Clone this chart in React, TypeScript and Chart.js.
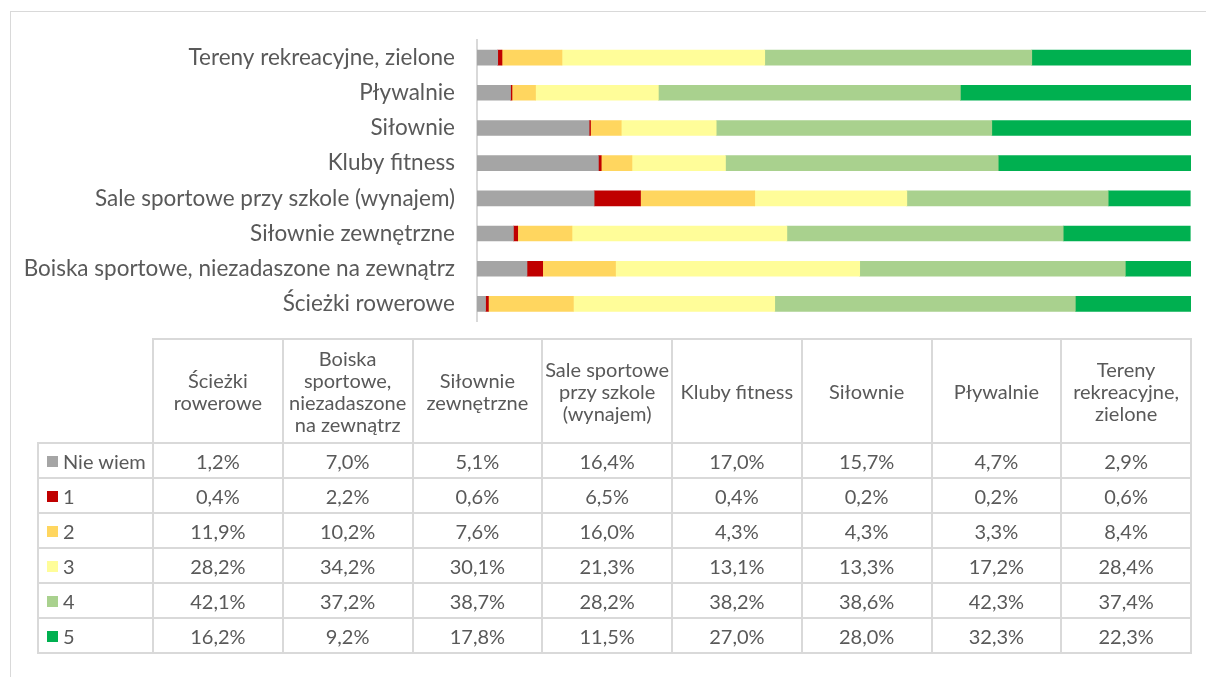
import React, { useEffect, useRef } from "react";
import { Chart, registerables } from "chart.js";

Chart.register(...registerables);

const categories = [
  "Ścieżki rowerowe",
  "Boiska sportowe, niezadaszone na zewnątrz",
  "Siłownie zewnętrzne",
  "Sale sportowe przy szkole (wynajem)",
  "Kluby fitness",
  "Siłownie",
  "Pływalnie",
  "Tereny rekreacyjne, zielone",
];

const headerLines = [
  ["Ścieżki", "rowerowe"],
  ["Boiska", "sportowe,", "niezadaszone", "na zewnątrz"],
  ["Siłownie", "zewnętrzne"],
  ["Sale sportowe", "przy szkole", "(wynajem)"],
  ["Kluby fitness"],
  ["Siłownie"],
  ["Pływalnie"],
  ["Tereny", "rekreacyjne,", "zielone"],
];

const seriesNames = ["Nie wiem", "1", "2", "3", "4", "5"];
const seriesColors = ["#A5A5A5", "#C00000", "#FFD65F", "#FFFD99", "#A9D18E", "#00B050"];

const nieWiem = [1.2, 7.0, 5.1, 16.4, 17.0, 15.7, 4.7, 2.9];
const ocena1 = [0.4, 2.2, 0.6, 6.5, 0.4, 0.2, 0.2, 0.6];
const ocena2 = [11.9, 10.2, 7.6, 16.0, 4.3, 4.3, 3.3, 8.4];
const ocena3 = [28.2, 34.2, 30.1, 21.3, 13.1, 13.3, 17.2, 28.4];
const ocena4 = [42.1, 37.2, 38.7, 28.2, 38.2, 38.6, 42.3, 37.4];
const ocena5 = [16.2, 9.2, 17.8, 11.5, 27.0, 28.0, 32.3, 22.3];

const seriesValues = [nieWiem, ocena1, ocena2, ocena3, ocena4, ocena5];

const FONT = "Lato, 'Open Sans', sans-serif";
const TEXT = "#595959";
const LINE = "#D9D9D9";

const fmt = (v: number) => v.toFixed(1).replace(".", ",") + "%";

export default function App() {
  const canvasRef = useRef<HTMLCanvasElement | null>(null);

  useEffect(() => {
    if (!canvasRef.current) return;
    const chart = new Chart(canvasRef.current, {
      type: "bar",
      data: {
        labels: categories,
        datasets: seriesNames.map((name, i) => ({
          label: name,
          data: seriesValues[i],
          backgroundColor: seriesColors[i],
          borderWidth: 0,
          barThickness: 15,
        })),
      },
      options: {
        indexAxis: "y",
        responsive: false,
        maintainAspectRatio: false,
        animation: false,
        layout: { padding: { top: 40, bottom: 8, right: 15, left: 0 } },
        plugins: { legend: { display: false }, tooltip: { enabled: false } },
        scales: {
          x: { stacked: true, min: 0, max: 100, display: false },
          y: {
            stacked: true,
            reverse: true,
            grid: { display: false, drawTicks: false },
            border: { display: true, color: LINE, width: 2 },
            ticks: {
              color: TEXT,
              padding: 22,
              font: { family: FONT, size: 22.5 },
            },
            afterFit: (scale: any) => {
              scale.width = 477;
            },
          },
        },
      },
    });
    return () => chart.destroy();
  }, []);

  const colX: number[] = [38, 153];
  for (let i = 1; i <= categories.length; i++) colX.push(153 + i * 129.75);
  const headerTop = 339;
  const headerBottom = 443;
  const rowH = 35;
  const rowY: number[] = [headerTop, headerBottom];
  for (let i = 1; i <= seriesNames.length; i++) rowY.push(headerBottom + i * rowH);
  const tableBottom = rowY[rowY.length - 1];

  const lines: React.ReactNode[] = [];
  rowY.forEach((y, i) => {
    const x0 = i === 0 ? colX[1] : colX[0];
    lines.push(
      <div key={"h" + i} style={{ position: "absolute", left: x0 - 1, top: y - 1, width: colX[colX.length - 1] - x0 + 2, height: 2, background: LINE }} />
    );
  });
  colX.forEach((x, i) => {
    const y0 = i === 0 ? headerBottom : headerTop;
    lines.push(
      <div key={"v" + i} style={{ position: "absolute", left: x - 1, top: y0 - 1, width: 2, height: tableBottom - y0 + 2, background: LINE }} />
    );
  });

  const cells: React.ReactNode[] = [];
  headerLines.forEach((hl, c) => {
    cells.push(
      <div key={"hd" + c} style={{ position: "absolute", left: colX[c + 1], top: headerTop, width: colX[c + 2] - colX[c + 1], height: headerBottom - headerTop, display: "flex", flexDirection: "column", justifyContent: "center", alignItems: "center", textAlign: "center", lineHeight: "22px", whiteSpace: "nowrap" }}>
        {hl.map((t, k) => (
          <div key={k}>{t}</div>
        ))}
      </div>
    );
  });
  seriesNames.forEach((name, r) => {
    cells.push(
      <div key={"lg" + r} style={{ position: "absolute", left: colX[0], top: rowY[r + 1], width: colX[1] - colX[0], height: rowH, display: "flex", alignItems: "center", whiteSpace: "nowrap" }}>
        <span style={{ display: "inline-block", width: 11, height: 11, background: seriesColors[r], marginLeft: 9, marginRight: 5, marginTop: 2 }} />
        <span>{name}</span>
      </div>
    );
    seriesValues[r].forEach((v, c) => {
      cells.push(
        <div key={"v" + r + "_" + c} style={{ position: "absolute", left: colX[c + 1], top: rowY[r + 1], width: colX[c + 2] - colX[c + 1], height: rowH, display: "flex", alignItems: "center", justifyContent: "center" }}>
          {fmt(v)}
        </div>
      );
    });
  });

  return (
    <div style={{ position: "absolute", left: 0, top: 0, width: 1206, height: 677, overflow: "hidden", background: "#fff", fontFamily: FONT, fontSize: 20, color: TEXT }}>
      <div style={{ position: "absolute", left: 10, top: 11, width: 1210, height: 700, borderLeft: "1px solid " + LINE, borderTop: "1px solid " + LINE }} />
      <canvas ref={canvasRef} width={1206} height={357} style={{ position: "absolute", left: 0, top: 0, width: 1206, height: 357 }} />
      {lines}
      {cells}
    </div>
  );
}
